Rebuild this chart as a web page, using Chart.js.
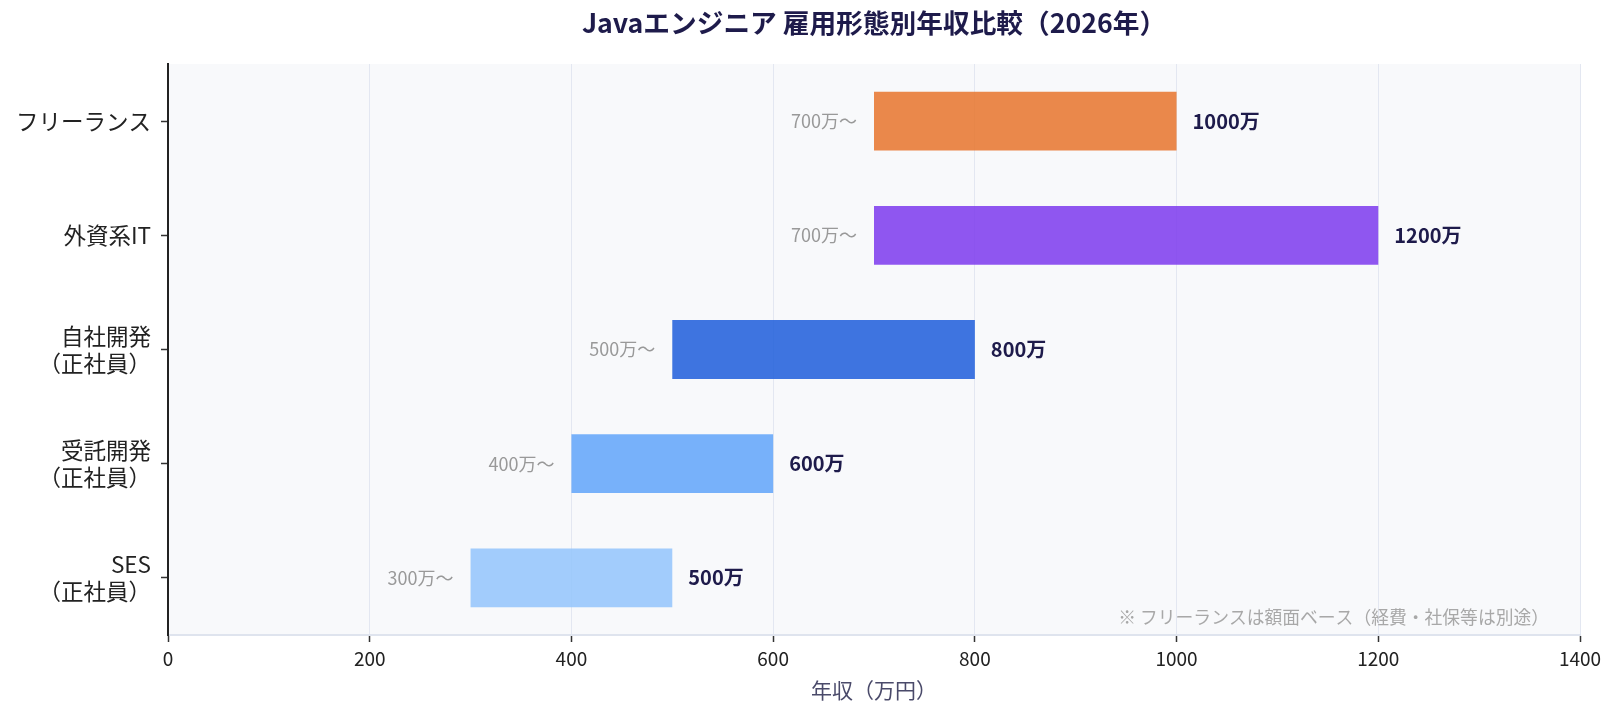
<!DOCTYPE html>
<html>
<head>
<meta charset="utf-8">
<script src="https://cdn.jsdelivr.net/npm/chart.js@4.4.1/dist/chart.umd.min.js"></script>
<style>
  html, body { margin: 0; padding: 0; background: #ffffff; }
  #wrap { width: 1617px; height: 716px; position: relative; }
</style>
</head>
<body>
<div id="wrap"><canvas id="c" width="1617" height="716"></canvas></div>
<script>
const categories = ["フリーランス", "外資系IT", ["自社開発", "（正社員）"], ["受託開発", "（正社員）"], ["SES", "（正社員）"]];
const startValues = [700, 700, 500, 400, 300];
const endValues = [1000, 1200, 800, 600, 500];
const barColors = [
  "rgba(231,116,43,0.85)",
  "rgba(124,58,237,0.85)",
  "rgba(29,93,219,0.85)",
  "rgba(96,164,249,0.85)",
  "rgba(147,196,252,0.85)"
];
const xTicks = [0, 200, 400, 600, 800, 1000, 1200, 1400];
const titleText = "Javaエンジニア 雇用形態別年収比較（2026年）";
const xAxisTitle = "年収（万円）";
const footnote = "※ フリーランスは額面ベース（経費・社保等は別途）";
const unit = "万";

const FONT = "'Noto Sans CJK JP', 'Noto Sans', sans-serif";

const bgPlugin = {
  id: "plotBg",
  afterLayout(chart) {
    const a = chart.chartArea;
    if (chart.titleBlock) {
      chart.titleBlock.left = a.left;
      chart.titleBlock.right = a.right;
    }
  },
  beforeDraw(chart) {
    const { ctx, chartArea: a } = chart;
    ctx.save();
    ctx.fillStyle = "#f8f9fb";
    ctx.fillRect(a.left, a.top, a.right - a.left, a.bottom - a.top);
    ctx.restore();
  }
};

const labelPlugin = {
  id: "barLabels",
  afterDatasetsDraw(chart) {
    const { ctx, chartArea: a } = chart;
    const xs = chart.scales.x, ys = chart.scales.y;
    ctx.save();
    ctx.textBaseline = "middle";
    for (let i = 0; i < startValues.length; i++) {
      const y = ys.getPixelForValue(i);
      const xs0 = xs.getPixelForValue(startValues[i]);
      const xe = xs.getPixelForValue(endValues[i]);
      ctx.font = "400 18px " + FONT;
      ctx.fillStyle = "#999999";
      ctx.textAlign = "right";
      ctx.fillText(startValues[i] + unit + "〜", xs0 - 17, y);
      ctx.font = "700 20px " + FONT;
      ctx.fillStyle = "#1e1b4b";
      ctx.textAlign = "left";
      ctx.fillText(endValues[i] + unit, xe + 16, y);
    }
    ctx.font = "400 17.8px " + FONT;
    ctx.fillStyle = "#a8a8a8";
    ctx.textAlign = "right";
    ctx.fillText(footnote, a.right - 31, a.bottom - 18);
    ctx.restore();
  }
};

new Chart(document.getElementById("c"), {
  type: "bar",
  data: {
    labels: categories,
    datasets: [{
      data: startValues.map((s, i) => [s, endValues[i]]),
      backgroundColor: barColors,
      borderWidth: 0,
      barPercentage: 0.515,
      categoryPercentage: 1.0
    }]
  },
  options: {
    indexAxis: "y",
    responsive: false,
    animation: false,
    layout: { padding: { left: 6, right: 37, top: 0, bottom: 13 } },
    plugins: {
      legend: { display: false },
      tooltip: { enabled: false },
      title: {
        display: true,
        text: titleText,
        color: "#1e1b4b",
        font: { family: FONT, size: 26.7, weight: "700" },
        padding: { top: 7, bottom: 25 }
      }
    },
    scales: {
      x: {
        type: "linear",
        min: 0,
        max: 1400,
        afterBuildTicks(scale) { scale.ticks = xTicks.map(v => ({ value: v })); },
        grid: { color: "#e3e7f1", lineWidth: 1, tickColor: "#333333", tickLength: 7, tickWidth: 1.5 },
        border: { color: "#dfe4ee", width: 2 },
        ticks: { color: "#222222", font: { family: FONT, size: 19 }, padding: 5, callback: v => String(v) },
        title: {
          display: true,
          text: xAxisTitle,
          color: "#4a4a6a",
          font: { family: FONT, size: 21 },
          padding: { top: 3, bottom: 0 }
        }
      },
      y: {
        grid: { drawOnChartArea: false, offset: false, tickColor: "#333333", tickLength: 7, tickWidth: 1.5 },
        border: { color: "#222222", width: 2 },
        ticks: { color: "#222222", font: { family: FONT, size: 22.5 }, padding: 10 }
      }
    }
  },
  plugins: [bgPlugin, labelPlugin]
});
</script>
</body>
</html>
